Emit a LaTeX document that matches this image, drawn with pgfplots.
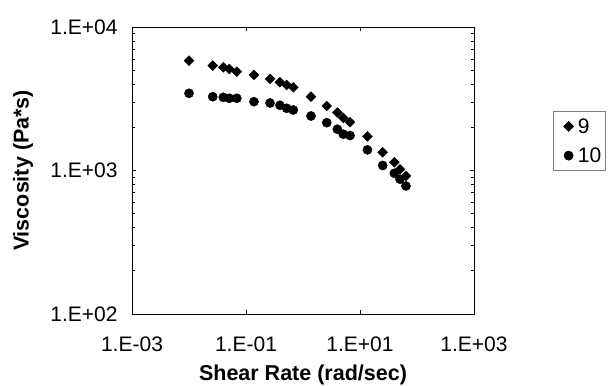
\documentclass[border=0pt]{standalone}
\usepackage{fontspec}
\setmainfont{Liberation Sans}
\usepackage{pgfplots}
\pgfplotsset{compat=1.18}
\begin{document}
\begin{tikzpicture}
\path[use as bounding box] (0,0) rectangle (608bp,386bp);
\begin{axis}[
  at={(132bp,72bp)}, anchor=south west,
  scale only axis, width=342bp, height=287bp,
  xmode=log, ymode=log,
  xmin=1e-3, xmax=1e3, ymin=100, ymax=1e4,
  xtick={1e-3,1e-1,1e1,1e3},
  xticklabels={1.E-03,1.E-01,1.E+01,1.E+03},
  ytick={100,1000,10000},
  yticklabels={1.E+02,1.E+03,1.E+04},
  minor xtick={}, minor ytick={},
  tick align=inside, major tick length=4bp,
  axis line style={line width=0.8bp},
  tick style={line width=0.6bp, black},
  ticklabel style={font=\fontsize{21bp}{25bp}\selectfont},
  xticklabel style={yshift=-19bp},
  yticklabel style={xshift=-11bp},
  every axis y label/.style={at={(rel axis cs:0,0.5)}, xshift=-109bp, rotate=90, anchor=center},
  every axis x label/.style={at={(rel axis cs:0.5,0)}, anchor=base, yshift=-67bp},
  label style={font=\bfseries\fontsize{21.5bp}{25bp}\selectfont},
  xlabel={Shear Rate (rad/sec)},
  ylabel={Viscosity (Pa*s)},
  legend style={at={(rel axis cs:1.231,0.707)}, anchor=north west, draw=gray, line width=0.6bp,
    font=\fontsize{21bp}{25bp}\selectfont, inner xsep=2bp, inner ysep=5bp, row sep=9bp},
  legend cell align=left,
  legend image code/.code={\path (0bp,0bp) (20bp,0bp); \draw[#1] plot coordinates {(13bp,0bp)};},
]
\addplot[only marks, mark=square*, mark size=3.5bp, mark options={rotate=45, fill=black, draw=black}, black]
coordinates {
(0.0100,5820) (0.0261,5375) (0.0400,5240) (0.0510,5100) (0.0690,4882)
(0.138,4630) (0.264,4343) (0.394,4118) (0.518,3943) (0.676,3800)
(1.38,3268) (2.61,2815) (4.00,2535) (5.09,2329) (6.68,2172)
(13.5,1728) (25.0,1340) (40.0,1141) (50.3,1019) (64.1,916)
};
\addlegendentry{9}
\addplot[only marks, mark=*, mark size=4.6bp, mark options={fill=black, draw=black}, black]
coordinates {
(0.0100,3451) (0.0261,3268) (0.0400,3236) (0.0510,3186) (0.0690,3186)
(0.138,3015) (0.264,2953) (0.394,2847) (0.518,2713) (0.676,2640)
(1.38,2398) (2.61,2153) (4.00,1940) (5.09,1790) (6.68,1753)
(13.5,1393) (25.0,1084) (40.0,956) (50.3,869) (64.1,780)
};
\addlegendentry{10}
\end{axis}
\end{tikzpicture}
\end{document}
